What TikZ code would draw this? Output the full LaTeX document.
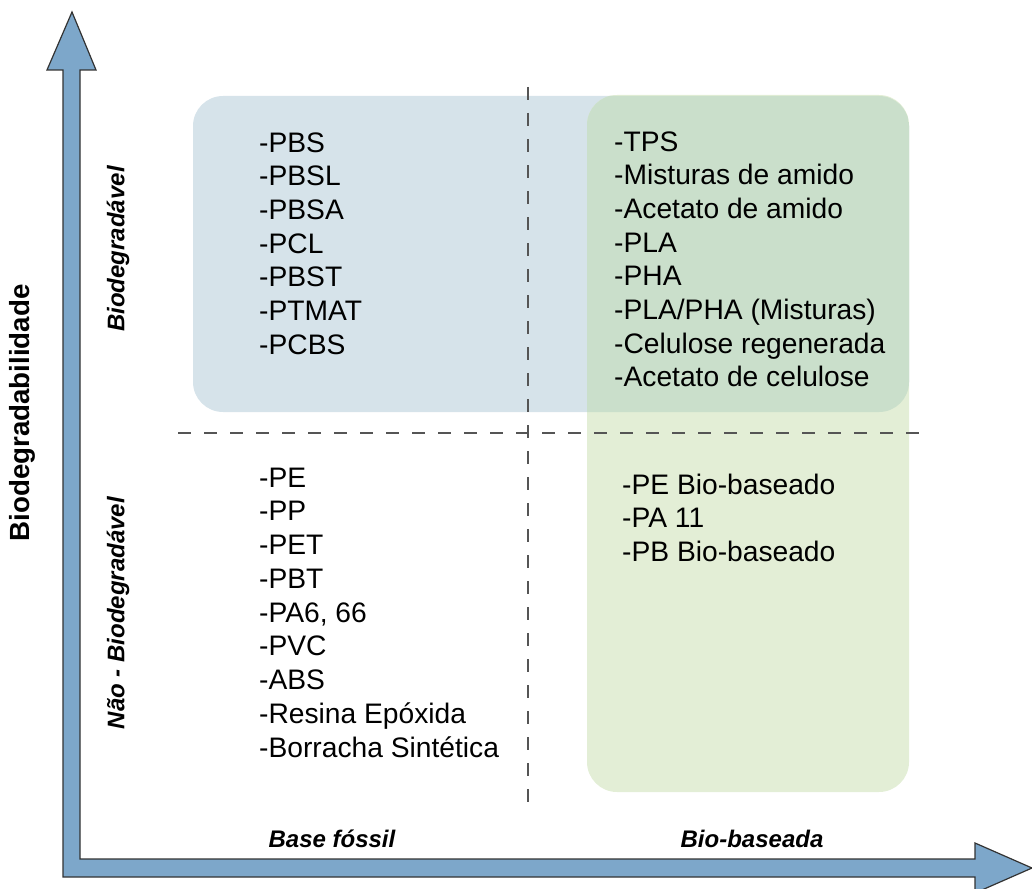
\documentclass[tikz,border=0pt]{standalone}
\usepackage{fontspec}
\setmainfont{Liberation Sans}
\definecolor{axisfill}{HTML}{7DA7CA}
\definecolor{axisline}{HTML}{333333}
\definecolor{fossilbox}{HTML}{D6E3EA}
\definecolor{biobox}{HTML}{E3EED6}
\definecolor{bothbox}{HTML}{CADFCB}
\definecolor{dashgray}{HTML}{555555}
\begin{document}
\begin{tikzpicture}[x=1pt,y=-1pt,
  item/.style={anchor=base west,inner sep=0pt,font=\fontsize{28.2}{33}\selectfont},
  axislabel/.style={inner sep=0pt,font=\fontsize{24}{28}\selectfont\bfseries\itshape},
  quadline/.style={dashgray,line width=1.6pt,dash pattern=on 13pt off 13pt}]
\useasboundingbox (0,0) rectangle (1032,888);

% shaded regions: fossil-based biodegradable band and bio-based column
\fill[fossilbox,rounded corners=30pt] (193,96) rectangle (909,412);
\fill[biobox,rounded corners=30pt] (587,95) rectangle (909,792);
\begin{scope}
  \clip[rounded corners=30pt] (193,96) rectangle (909,412);
  \fill[bothbox,rounded corners=30pt] (587,95) rectangle (909,792);
\end{scope}

% quadrant separators
\coordinate (vtop) at (528,87);
\coordinate (vbot) at (528,802);
\coordinate (hleft) at (178,433);
\coordinate (hright) at (926,433);
\draw[quadline] (vtop) -- (vbot);
\draw[quadline] (hleft) -- (hright);

% L-shaped axis with two arrow heads
\draw[fill=axisfill,draw=axisline,line width=1.2pt,line join=miter]
  (63,877) -- (63,70) -- (47,70) -- (72,12) -- (96,70) -- (80,70)
  -- (80,859) -- (975,859) -- (975,843) -- (1032,868) -- (975,893)
  -- (975,877) -- cycle;

% axis titles
\node[inner sep=0pt,rotate=90,font=\fontsize{27.7}{32}\selectfont\bfseries]
  (ytitle) at (22,413) {Biodegradabilidade};
\node[axislabel,rotate=90] (ybio) at (118,249) {Biodegradável};
\node[axislabel,rotate=90] (ynonbio) at (118,613) {Não - Biodegradável};
\node[axislabel,anchor=base] (xfossil) at (332,847) {Base fóssil};
\node[axislabel,anchor=base] (xbio) at (752,847) {Bio-baseada};

% upper left: fossil-based, biodegradable
\foreach \t [count=\i from 0] in {-PBS,-PBSL,-PBSA,-PCL,-PBST,-PTMAT,-PCBS}
  \node[item] (ul\i) at (259,152+33.7*\i) {\t};

% upper right: bio-based, biodegradable
\foreach \t [count=\i from 0] in {-TPS,-Misturas de amido,-Acetato de amido,-PLA,-PHA,-PLA/PHA (Misturas),-Celulose regenerada,-Acetato de celulose}
  \node[item] (ur\i) at (614,151+33.7*\i) {\t};

% lower left: fossil-based, non-biodegradable
\foreach \t [count=\i from 0] in {-PE,-PP,-PET,-PBT,{-PA6, 66},-PVC,-ABS,-Resina Epóxida,-Borracha Sintética}
  \node[item] (ll\i) at (259,487+33.75*\i) {\t};

% lower right: bio-based, non-biodegradable
\foreach \t [count=\i from 0] in {-PE Bio-baseado,-PA 11,-PB Bio-baseado}
  \node[item] (lr\i) at (622,494+33.5*\i) {\t};
\end{tikzpicture}
\end{document}
